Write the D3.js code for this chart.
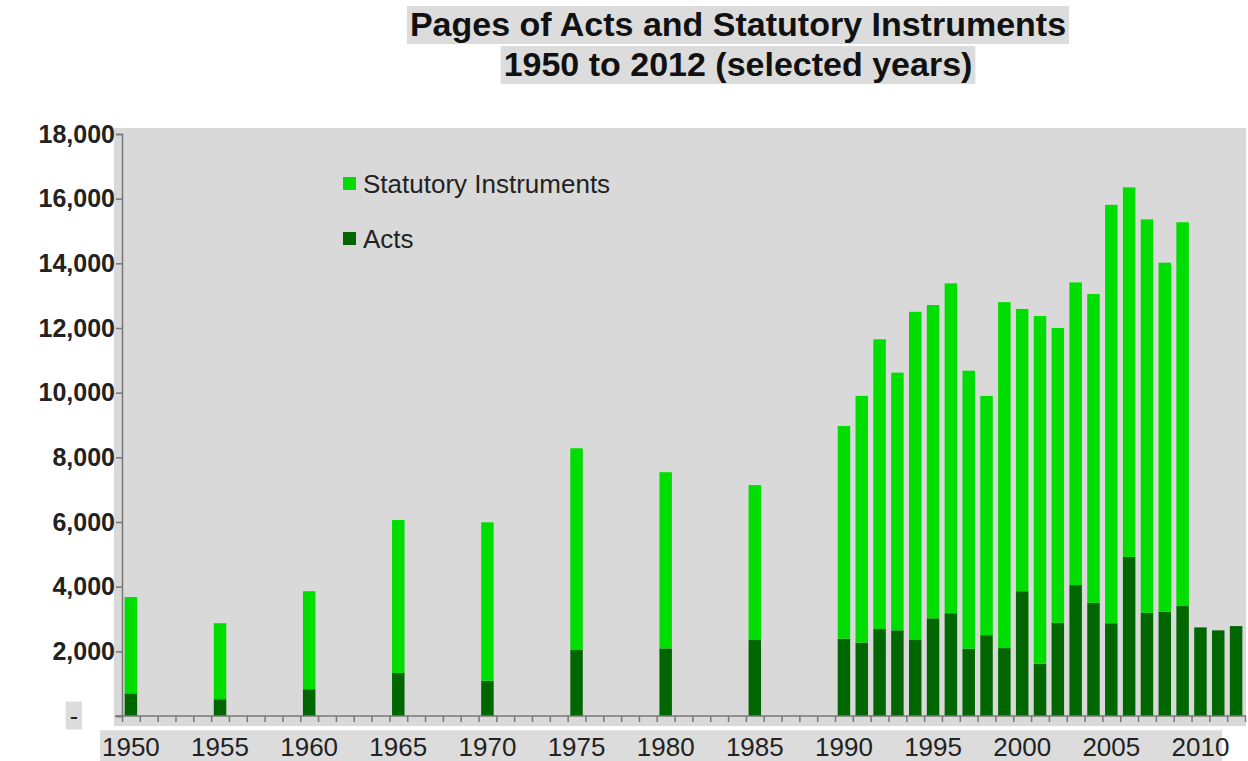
<!DOCTYPE html>
<html>
<head>
<meta charset="utf-8">
<script src="https://cdn.jsdelivr.net/npm/d3@7"></script>
<style>
  body { margin: 0; background: #fff; }
  text { font-family: "Liberation Sans", Arial, Helvetica, sans-serif; }
</style>
</head>
<body>
<div id="chart"></div>
<script>
// years shown on the chart (gaps before 1990 have no bars)
const years = [1950, 1955, 1960, 1965, 1970, 1975, 1980, 1985,
  1990, 1991, 1992, 1993, 1994, 1995, 1996, 1997, 1998, 1999,
  2000, 2001, 2002, 2003, 2004, 2005, 2006, 2007, 2008, 2009,
  2010, 2011, 2012];
const actsPages = [700, 520, 830, 1330, 1090, 2040, 2090, 2350,
  2390, 2270, 2690, 2650, 2350, 3020, 3180, 2080, 2500, 2100,
  3860, 1620, 2880, 4050, 3500, 2870, 4920, 3190, 3230, 3400,
  2740, 2650, 2780];
const siPages = [2980, 2350, 3030, 4730, 4900, 6240, 5450, 4790,
  6580, 7630, 8960, 7970, 10150, 9690, 10200, 8600, 7400, 10700,
  8730, 10750, 9120, 9360, 9550, 12940, 11430, 12170, 10790, 11870,
  0, 0, 0];
const yTicks = [0, 2000, 4000, 6000, 8000, 10000, 12000, 14000, 16000, 18000];
const xLabels = [1950, 1955, 1960, 1965, 1970, 1975, 1980, 1985, 1990, 1995, 2000, 2005, 2010];
const titleLines = ['Pages of Acts and Statutory Instruments', '1950 to 2012 (selected years)'];
const seriesNames = ['Statutory Instruments', 'Acts'];

const W = 1248, H = 761;
const actsColor = '#006600', siColor = '#00dd00', bg = '#d9d9d9', hl = '#dcdcdc';

const svg = d3.select('#chart').append('svg')
  .attr('width', W).attr('height', H);

// title with highlight boxes
const title = svg.append('g');
titleLines.forEach((t, i) => {
  const g = title.append('g');
  const txt = g.append('text')
    .attr('x', 738).attr('y', 36 + i * 40)
    .attr('text-anchor', 'middle')
    .attr('font-size', 34).attr('font-weight', 'bold')
    .attr('fill', '#111')
    .text(t);
  const bb = txt.node().getBBox();
  g.insert('rect', 'text')
    .attr('x', bb.x - 3).attr('y', bb.y + 1)
    .attr('width', bb.width + 6).attr('height', bb.height)
    .attr('fill', hl);
});

// plot background
svg.append('rect')
  .attr('x', 114).attr('y', 128)
  .attr('width', 1246 - 114).attr('height', 726 - 128)
  .attr('fill', bg);

const allYears = d3.range(1950, 2013);
const x = d3.scaleBand().domain(allYears).range([122, 1245]);
const y = d3.scaleLinear().domain([0, 18000]).range([716, 134]);
const xEdge = d3.scaleLinear().domain([1949.5, 2012.5]).range([122, 1245]);

const rows = years.map((yr, i) => ({ year: yr, acts: actsPages[i], si: siPages[i] }));
const stack = d3.stack().keys(['acts', 'si'])(rows);
const colors = { acts: actsColor, si: siColor };
const barW = x.bandwidth() * 0.7;

svg.append('g').selectAll('g')
  .data(stack)
  .join('g')
  .attr('fill', d => colors[d.key])
  .selectAll('rect')
  .data(d => d.filter(p => p[1] > p[0]))
  .join('rect')
  .attr('x', d => x(d.data.year) + (x.bandwidth() - barW) / 2)
  .attr('width', barW)
  .attr('y', d => y(d[1]))
  .attr('height', d => y(d[0]) - y(d[1]));

// y axis
const yAxis = svg.append('g')
  .attr('transform', 'translate(122,0)')
  .call(d3.axisLeft(y).tickValues(yTicks).tickSize(6).tickPadding(1)
    .tickFormat(d => d === 0 ? '-' : d3.format(',')(d)));
yAxis.select('.domain').attr('stroke', '#777').attr('stroke-width', 1.5);
yAxis.selectAll('.tick line').attr('stroke', '#777').attr('stroke-width', 1.5);
yAxis.selectAll('.tick text')
  .attr('font-size', 25).attr('font-weight', 'bold').attr('fill', '#222');
const zeroTxt = yAxis.selectAll('.tick').filter(d => d === 0).select('text')
  .attr('x', -44).attr('font-weight', 'normal');
const zb = zeroTxt.node().getBBox();
yAxis.selectAll('.tick').filter(d => d === 0).insert('rect', 'text')
  .attr('x', zb.x - 4).attr('y', zb.y).attr('width', zb.width + 8).attr('height', zb.height)
  .attr('fill', hl);

// x axis line with ticks between categories
const xAxis = svg.append('g')
  .attr('transform', 'translate(0,716)')
  .call(d3.axisBottom(xEdge).tickValues(d3.range(1949.5, 2013, 1)).tickSize(6).tickFormat(''));
xAxis.select('.domain').attr('stroke', '#777').attr('stroke-width', 1.5)
  .attr('d', 'M115,0H1246');
xAxis.selectAll('.tick line').attr('stroke', '#777').attr('stroke-width', 1.5);

// x labels with highlight strip
const xl = svg.append('g')
  .attr('transform', 'translate(0,736)')
  .call(d3.axisBottom(x).tickValues(xLabels).tickSize(0).tickPadding(0));
xl.select('.domain').remove();
xl.selectAll('.tick text').attr('font-size', 26).attr('fill', '#222').attr('dy', '0.78em');
const lb = xl.node().getBBox();
xl.insert('rect', ':first-child')
  .attr('x', 100).attr('y', lb.y - 2).attr('width', 1222 - 100).attr('height', lb.height + 4)
  .attr('fill', hl);

// legend
const legend = svg.append('g');
seriesNames.forEach((name, i) => {
  legend.append('rect')
    .attr('x', 343).attr('y', 177 + i * 55)
    .attr('width', 13).attr('height', 13)
    .attr('fill', i === 0 ? siColor : actsColor);
  legend.append('text')
    .attr('x', 363).attr('y', 193 + i * 55)
    .attr('font-size', 26).attr('fill', '#222')
    .text(name);
});
</script>
</body>
</html>
